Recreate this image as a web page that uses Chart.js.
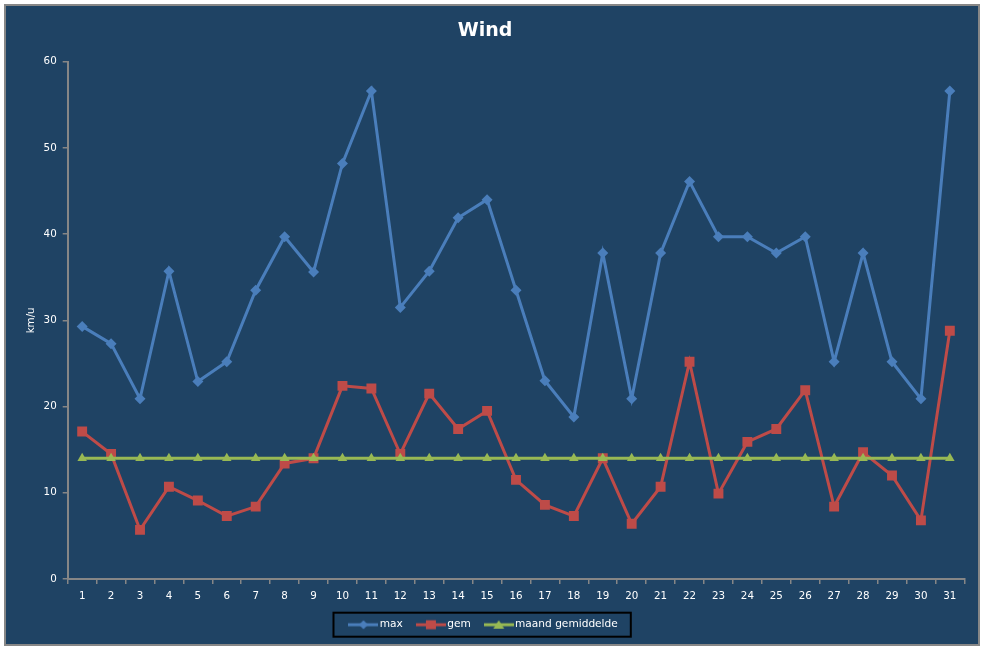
<!DOCTYPE html>
<html>
<head>
<meta charset="utf-8">
<script src="https://cdn.jsdelivr.net/npm/chart.js@4/dist/chart.umd.min.js"></script>
<style>
  html, body { margin: 0; padding: 0; background: #ffffff; }
  .frame {
    position: absolute;
    left: 4px;
    top: 4px;
    width: 976px;
    height: 642px;
    box-sizing: border-box;
    border: 2px solid #878787;
    background: #1f4364;
  }
  .frame canvas { display: block; }
</style>
</head>
<body>
<div class="frame"><canvas id="wind" width="972" height="638"></canvas></div>
<script>
// dagen van de maand
const days = [
  "1", "2", "3", "4", "5", "6", "7", "8", "9", "10",
  "11", "12", "13", "14", "15", "16", "17", "18", "19", "20",
  "21", "22", "23", "24", "25", "26", "27", "28", "29", "30", "31",
];

// max wind (km/u)
const maxWind = [
  29.3, 27.3, 20.9, 35.7, 22.9, 25.2, 33.5, 39.7, 35.6, 48.2,
  56.6, 31.5, 35.7, 41.9, 44.0, 33.5, 23.0, 18.8, 37.8, 20.9,
  37.8, 46.1, 39.7, 39.7, 37.8, 39.7, 25.2, 37.8, 25.2, 20.9, 56.6,
];

// gemiddelde wind (km/u)
const avgWind = [
  17.1, 14.5, 5.7, 10.7, 9.1, 7.3, 8.4, 13.4, 14.0, 22.4,
  22.1, 14.5, 21.5, 17.4, 19.5, 11.5, 8.6, 7.3, 14.0, 6.4,
  10.7, 25.2, 9.9, 15.9, 17.4, 21.9, 8.4, 14.7, 12.0, 6.8, 28.8,
];

// maandgemiddelde
const monthAvg = [
  14, 14, 14, 14, 14, 14, 14, 14, 14, 14,
  14, 14, 14, 14, 14, 14, 14, 14, 14, 14,
  14, 14, 14, 14, 14, 14, 14, 14, 14, 14, 14,
];

const yTicks = { min: 0, max: 60, step: 10 };

const blue = "#4a7ebb";
const red = "#be4b48";
const green = "#98b954";
const axisGrey = "#868686";

// legend icon: line with marker in the middle
function legendIcon(color, style) {
  const c = document.createElement("canvas");
  c.width = 30;
  c.height = 14;
  const ctx = c.getContext("2d");
  ctx.strokeStyle = color;
  ctx.fillStyle = color;
  ctx.lineWidth = 3;
  ctx.beginPath();
  ctx.moveTo(0, 7);
  ctx.lineTo(30, 7);
  ctx.stroke();
  ctx.beginPath();
  if (style === "diamond") {
    ctx.moveTo(15, 2.5);
    ctx.lineTo(19.5, 7);
    ctx.lineTo(15, 11.5);
    ctx.lineTo(10.5, 7);
  } else if (style === "square") {
    ctx.rect(10, 2.5, 10, 9);
  } else {
    ctx.moveTo(15, 2.5);
    ctx.lineTo(20.5, 11);
    ctx.lineTo(9.5, 11);
  }
  ctx.closePath();
  ctx.fill();
  return c;
}

const icons = [
  legendIcon(blue, "diamond"),
  legendIcon(red, "square"),
  legendIcon(green, "triangle"),
];

// zwarte rand rond de legende
const legendBorder = {
  id: "legendBorder",
  afterDraw(chart) {
    const boxes = chart.legend && chart.legend.legendHitBoxes;
    if (!boxes || !boxes.length) return;
    let left = Infinity, right = -Infinity, mid = 0;
    boxes.forEach((b) => {
      left = Math.min(left, b.left);
      right = Math.max(right, b.left + b.width);
      mid = b.top + b.height / 2;
    });
    const ctx = chart.ctx;
    ctx.save();
    ctx.strokeStyle = "#000000";
    ctx.lineWidth = 2;
    ctx.strokeRect(left - 19, mid - 12, right - left + 32, 24);
    ctx.restore();
  },
};

const PAD_BOTTOM = 4;

const config = {
  type: "line",
  data: {
    labels: days,
    datasets: [
      {
        label: "max",
        data: maxWind,
        borderColor: blue,
        backgroundColor: blue,
        borderWidth: 3,
        pointStyle: "rectRot",
        pointRadius: 5.5,
        pointBorderWidth: 0,
        pointHoverRadius: 5.5,
        tension: 0,
        order: 2,
      },
      {
        label: "gem",
        data: avgWind,
        borderColor: red,
        backgroundColor: red,
        borderWidth: 3,
        pointStyle: "rect",
        pointRadius: 7,
        pointBorderWidth: 0,
        pointHoverRadius: 7,
        tension: 0,
        order: 1,
      },
      {
        label: "maand gemiddelde",
        data: monthAvg,
        borderColor: green,
        backgroundColor: green,
        borderWidth: 3,
        pointStyle: "triangle",
        pointRadius: 5.5,
        pointBorderWidth: 0,
        pointHoverRadius: 5.5,
        tension: 0,
        order: 0,
      },
    ],
  },
  options: {
    responsive: false,
    animation: false,
    layout: {
      padding: { left: 0, right: 13.7, top: 0, bottom: PAD_BOTTOM },
    },
    scales: {
      x: {
        offset: true,
        grid: {
          offset: true,
          drawOnChartArea: false,
          drawTicks: true,
          tickLength: 5,
          tickColor: axisGrey,
          lineWidth: 1.5,
        },
        border: { color: axisGrey, width: 2 },
        ticks: {
          color: "#ffffff",
          padding: 6.5,
          maxRotation: 0,
          autoSkip: false,
          font: { family: "DejaVu Sans", size: 10.3 },
        },
        afterFit(scale) {
          // plot bottom fixed near y = 573 on the canvas
          scale.height = scale.chart.height - PAD_BOTTOM - scale.chart.legend.height - 573;
        },
      },
      y: {
        min: yTicks.min,
        max: yTicks.max,
        grid: {
          drawOnChartArea: false,
          drawTicks: true,
          tickLength: 5,
          tickColor: axisGrey,
          lineWidth: 1.5,
        },
        border: { color: axisGrey, width: 2 },
        ticks: {
          stepSize: yTicks.step,
          color: "#ffffff",
          padding: 6,
          font: { family: "DejaVu Sans", size: 10.3 },
        },
        title: {
          display: true,
          text: "km/u",
          color: "#ffffff",
          padding: { top: 19.5, bottom: 0 },
          font: { family: "DejaVu Sans", size: 10.3 },
        },
        afterFit(scale) {
          scale.width = 61.7;
        },
      },
    },
    plugins: {
      title: {
        display: true,
        text: "Wind",
        color: "#ffffff",
        padding: { top: 14, bottom: 18.9 },
        font: { family: "DejaVu Sans", size: 19, weight: "bold", lineHeight: 1.2 },
      },
      legend: {
        position: "bottom",
        reverse: true,
        labels: {
          color: "#ffffff",
          usePointStyle: true,
          pointStyleWidth: 22,
          padding: 17,
          font: { family: "DejaVu Sans", size: 10.6 },
          generateLabels(chart) {
            const items = Chart.defaults.plugins.legend.labels.generateLabels(chart);
            items.forEach((it) => {
              it.pointStyle = icons[it.datasetIndex];
            });
            return items;
          },
        },
      },
      tooltip: { enabled: false },
    },
  },
  plugins: [legendBorder],
};

const windChart = new Chart(document.getElementById("wind"), config);
</script>
</body>
</html>
